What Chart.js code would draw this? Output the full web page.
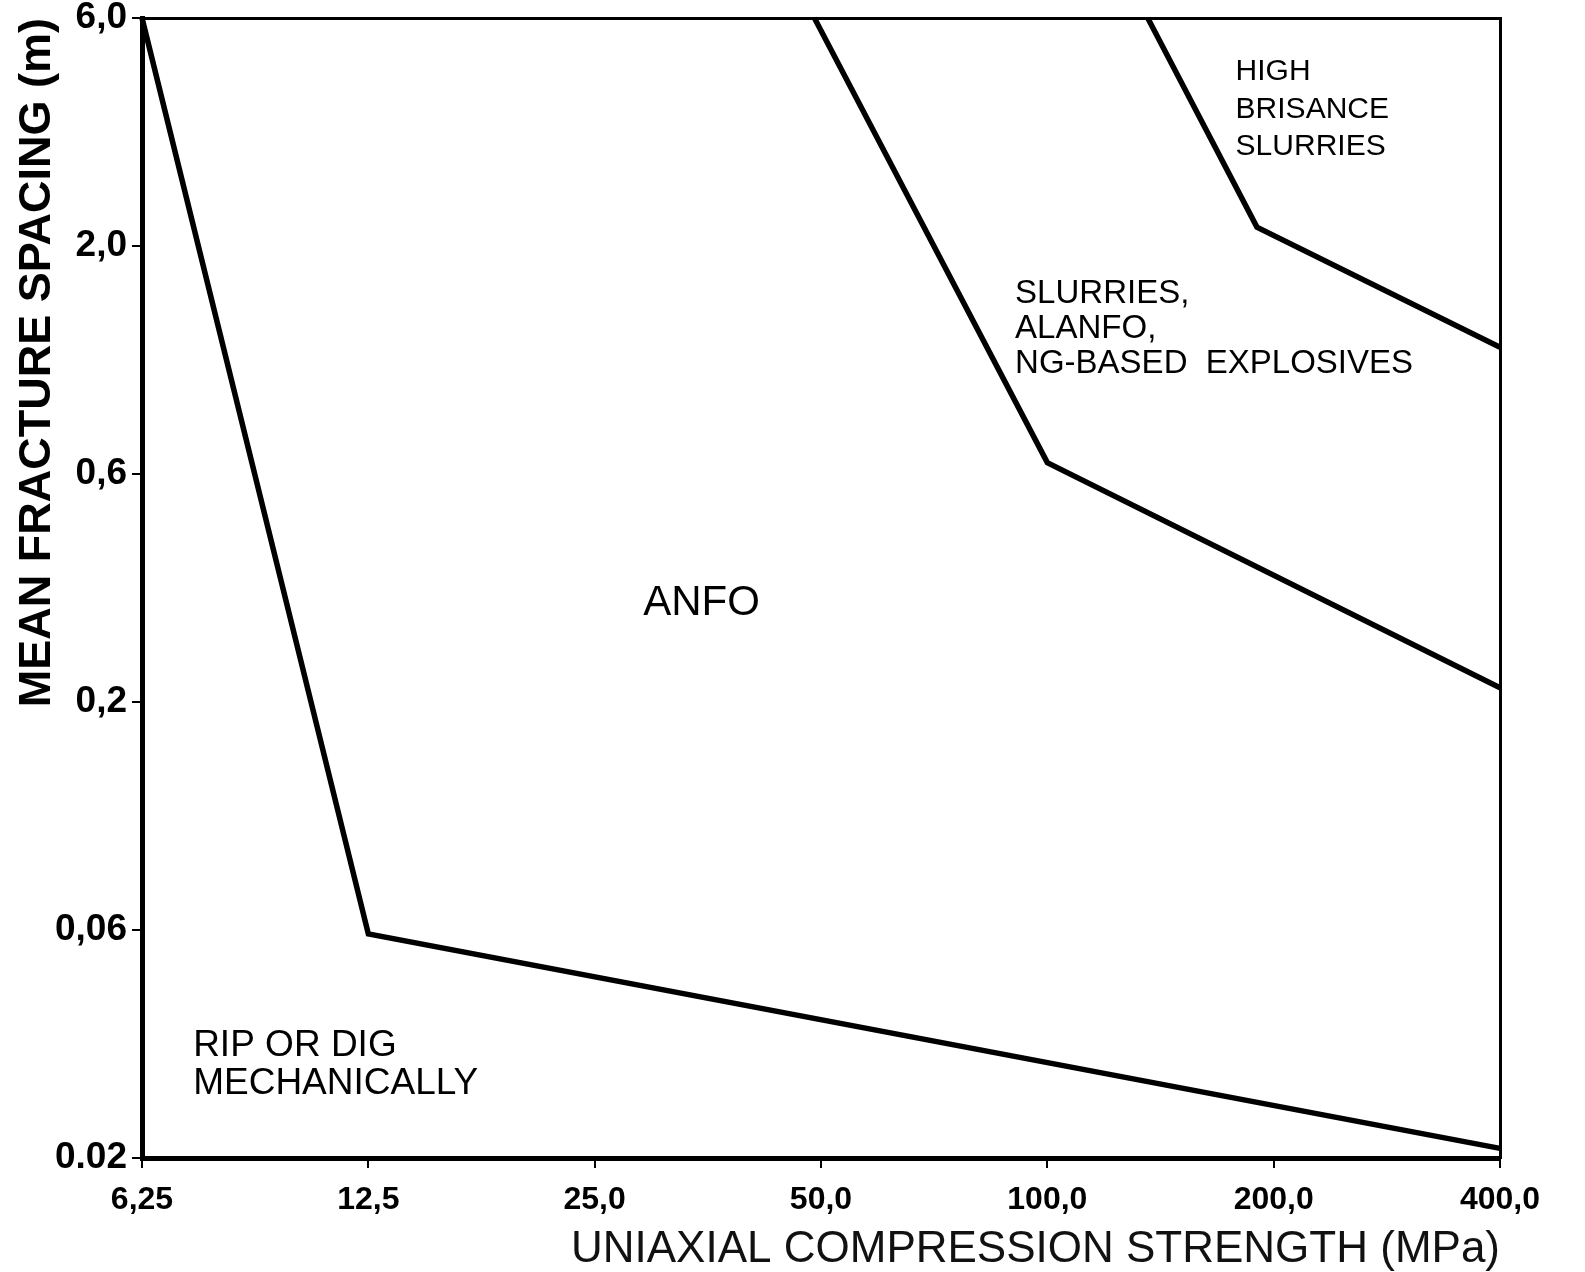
<!DOCTYPE html>
<html>
<head>
<meta charset="utf-8">
<script src="https://cdn.jsdelivr.net/npm/chart.js@4/dist/chart.umd.min.js"></script>
<style>
  html, body { margin: 0; padding: 0; background: #ffffff; }
  #wrap { width: 1585px; height: 1272px; }
</style>
</head>
<body>
<div id="wrap"><canvas id="c" width="1585" height="1272"></canvas></div>
<script>
// ---- axis ticks ----
const xTickValues = [6.25, 12.5, 25, 50, 100, 200, 400];
const xTickLabels = ['6,25', '12,5', '25,0', '50,0', '100,0', '200,0', '400,0'];
const yTickValues = [0.02, 0.06325, 0.2, 0.6325, 2.0, 6.325];
const yTickLabels = ['0.02', '0,06', '0,2', '0,6', '2,0', '6,0'];

// ---- boundary lines (x: MPa, y: m) ----
const ripLimitX = [6.25, 12.5, 400];
const ripLimitY = [6.325, 0.062, 0.021];
const anfoLimitX = [49, 100, 400];
const anfoLimitY = [6.325, 0.67, 0.215];
const slurryLimitX = [136, 190, 400];
const slurryLimitY = [6.325, 2.2, 1.2];

// ---- region labels ----
const regionTexts = [
  ['HIGH', 'BRISANCE', 'SLURRIES'],
  ['SLURRIES,', 'ALANFO,', 'NG-BASED  EXPLOSIVES'],
  ['ANFO'],
  ['RIP OR DIG', 'MECHANICALLY']
];
const regionX = [178, 90.6, 29.0, 7.31];
const regionY = [4.81, 1.57, 0.329, 0.0353];

const xTitle = 'UNIAXIAL COMPRESSION STRENGTH (MPa)';
const yTitle = 'MEAN FRACTURE SPACING (m)';

function pts(xs, ys) { return xs.map((x, i) => ({ x: x, y: ys[i] })); }

const lineStyle = {
  showLine: true, borderColor: '#000', borderWidth: 5.5, pointRadius: 0,
  fill: false, tension: 0, borderJoinStyle: 'miter', borderCapStyle: 'butt'
};

const FAM = '"Liberation Sans", Arial, sans-serif';

const labelPlugin = {
  id: 'regionLabels',
  afterDatasetsDraw(chart) {
    const ctx = chart.ctx;
    const xs = chart.scales.x, ys = chart.scales.y;
    const fonts = ['30px ' + FAM, '33px ' + FAM, '42px ' + FAM, '37px ' + FAM];
    const lh = [37.5, 35, 42, 38];
    ctx.save();
    ctx.fillStyle = '#000';
    ctx.textAlign = 'left';
    ctx.textBaseline = 'middle';
    regionTexts.forEach((lines, i) => {
      const px = xs.getPixelForValue(regionX[i]);
      const py = ys.getPixelForValue(regionY[i]);
      ctx.font = fonts[i];
      lines.forEach((t, j) => ctx.fillText(t, px, py + j * lh[i]));
    });
    ctx.restore();
  }
};

new Chart(document.getElementById('c'), {
  type: 'scatter',
  data: {
    datasets: [
      Object.assign({ label: 'rip', data: pts(ripLimitX, ripLimitY) }, lineStyle),
      Object.assign({ label: 'anfo', data: pts(anfoLimitX, anfoLimitY) }, lineStyle),
      Object.assign({ label: 'slurry', data: pts(slurryLimitX, slurryLimitY) }, lineStyle)
    ]
  },
  options: {
    responsive: false,
    animation: false,
    clip: false,
    layout: { padding: { top: 18, right: 85, left: 0, bottom: 0 } },
    plugins: { legend: { display: false }, tooltip: { enabled: false } },
    scales: {
      x: {
        type: 'logarithmic', position: 'bottom', min: 6.25, max: 400,
        afterBuildTicks: s => { s.ticks = xTickValues.map(v => ({ value: v })); },
        afterFit: s => { s.height = 114; s.paddingLeft = 0; s.paddingRight = 0; },
        ticks: {
          callback: (v, i) => xTickLabels[i],
          color: '#000', padding: 13, maxRotation: 0, autoSkip: false,
          font: { family: FAM, size: 32, weight: 'bold' }
        },
        grid: { drawOnChartArea: false, drawTicks: true, tickLength: 10, color: '#000', lineWidth: 2 },
        border: { display: true, color: '#000', width: 5 },
        title: {
          display: true, text: xTitle, align: 'end', color: '#111',
          padding: { top: 0, bottom: 0 },
          font: { family: FAM, size: 44, weight: 'normal', lineHeight: 1 }
        }
      },
      y: {
        type: 'logarithmic', position: 'left', min: 0.02, max: 6.325,
        afterBuildTicks: s => { s.ticks = yTickValues.map(v => ({ value: v })); },
        afterFit: s => { s.width = 142; s.paddingTop = 0; s.paddingBottom = 0; },
        ticks: {
          callback: (v, i) => yTickLabels[i],
          color: '#000', padding: 5, autoSkip: false,
          font: { family: FAM, size: 37, weight: 'bold' }
        },
        grid: { drawOnChartArea: false, drawTicks: true, tickLength: 10, color: '#000', lineWidth: 2 },
        border: { display: true, color: '#000', width: 5 },
        title: {
          display: true, text: yTitle, align: 'end', color: '#000',
          padding: { top: 11, bottom: 0 },
          font: { family: FAM, size: 45, weight: 'bold', lineHeight: 1.2 }
        }
      },
      xTop: {
        type: 'linear', position: 'top', min: 0, max: 1, display: true,
        ticks: { display: false },
        grid: { display: false, drawTicks: false, drawOnChartArea: false },
        border: { display: true, color: '#000', width: 3 }
      },
      yRight: {
        type: 'linear', position: 'right', min: 0, max: 1, display: true,
        ticks: { display: false },
        grid: { display: false, drawTicks: false, drawOnChartArea: false },
        border: { display: true, color: '#000', width: 3 }
      }
    }
  },
  plugins: [labelPlugin]
});
</script>
</body>
</html>
